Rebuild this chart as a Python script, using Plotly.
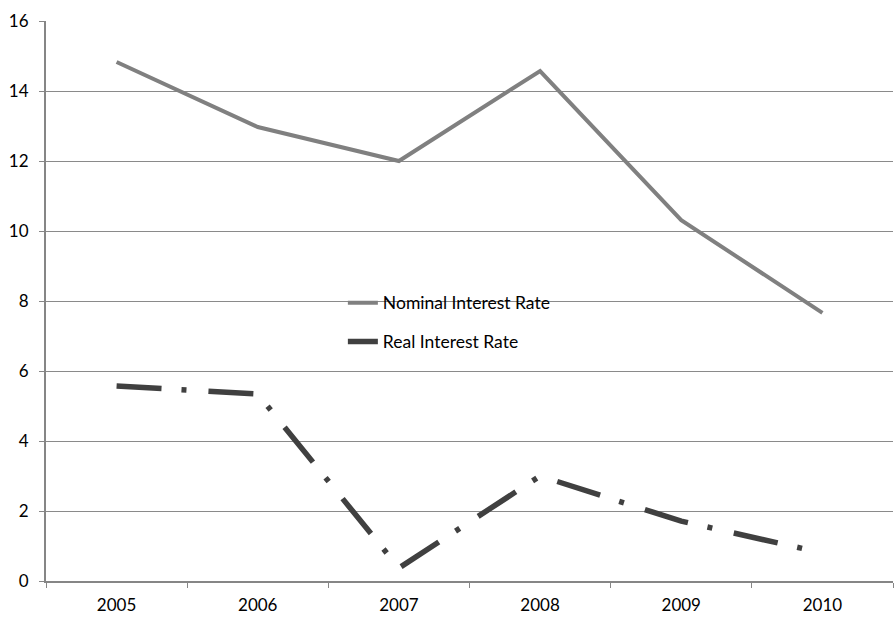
import plotly.graph_objects as go

years = ["2005", "2006", "2007", "2008", "2009", "2010"]
nominal_rate = [14.83, 12.97, 12.0, 14.57, 10.31, 7.66]
real_rate = [5.57, 5.34, 0.37, 3.0, 1.71, 0.8]
y_ticks = [0, 2, 4, 6, 8, 10, 12, 14, 16]

FONT = "Lato"

fig = go.Figure()
fig.add_trace(go.Scatter(
    x=years, y=nominal_rate, mode="lines", name="Nominal Interest Rate",
    line=dict(color="#808080", width=4), legendgroup="a",
))
fig.add_trace(go.Scatter(
    x=years, y=real_rate, mode="lines", name="Real Interest Rate",
    line=dict(color="#404040", width=5.5, dash="45px,20px,5px,22px"),
    legendgroup="b",
))

fig.update_layout(
    width=895, height=617,
    margin=dict(l=46, r=2, t=21, b=36),
    paper_bgcolor="white", plot_bgcolor="white",
    font=dict(family=FONT, size=16, color="black"),
    showlegend=True,
    legend=dict(
        x=0.3505, y=0.529, xanchor="left", yanchor="top",
        bgcolor="rgba(0,0,0,0)", font=dict(size=17.5, family=FONT),
        tracegroupgap=13, itemwidth=30,
    ),
    xaxis=dict(
        type="category", showgrid=False, showline=True, linecolor="#868686",
        linewidth=2, ticks="outside", tickson="boundaries", ticklen=5,
        tickcolor="#868686", tickfont=dict(size=17, family=FONT),
        ticklabelstandoff=8, automargin=False,
        range=[-0.5, 5.5], fixedrange=True,
    ),
    yaxis=dict(
        range=[0, 16], tickvals=y_ticks, showgrid=True, gridcolor="#8a8a8a",
        gridwidth=1, showline=True, linecolor="#868686", linewidth=2,
        ticks="outside", ticklen=5, tickcolor="#868686",
        ticklabelstandoff=7, automargin=False,
        tickfont=dict(size=17, family=FONT), zeroline=False,
    ),
)

fig.write_html("out.html")
